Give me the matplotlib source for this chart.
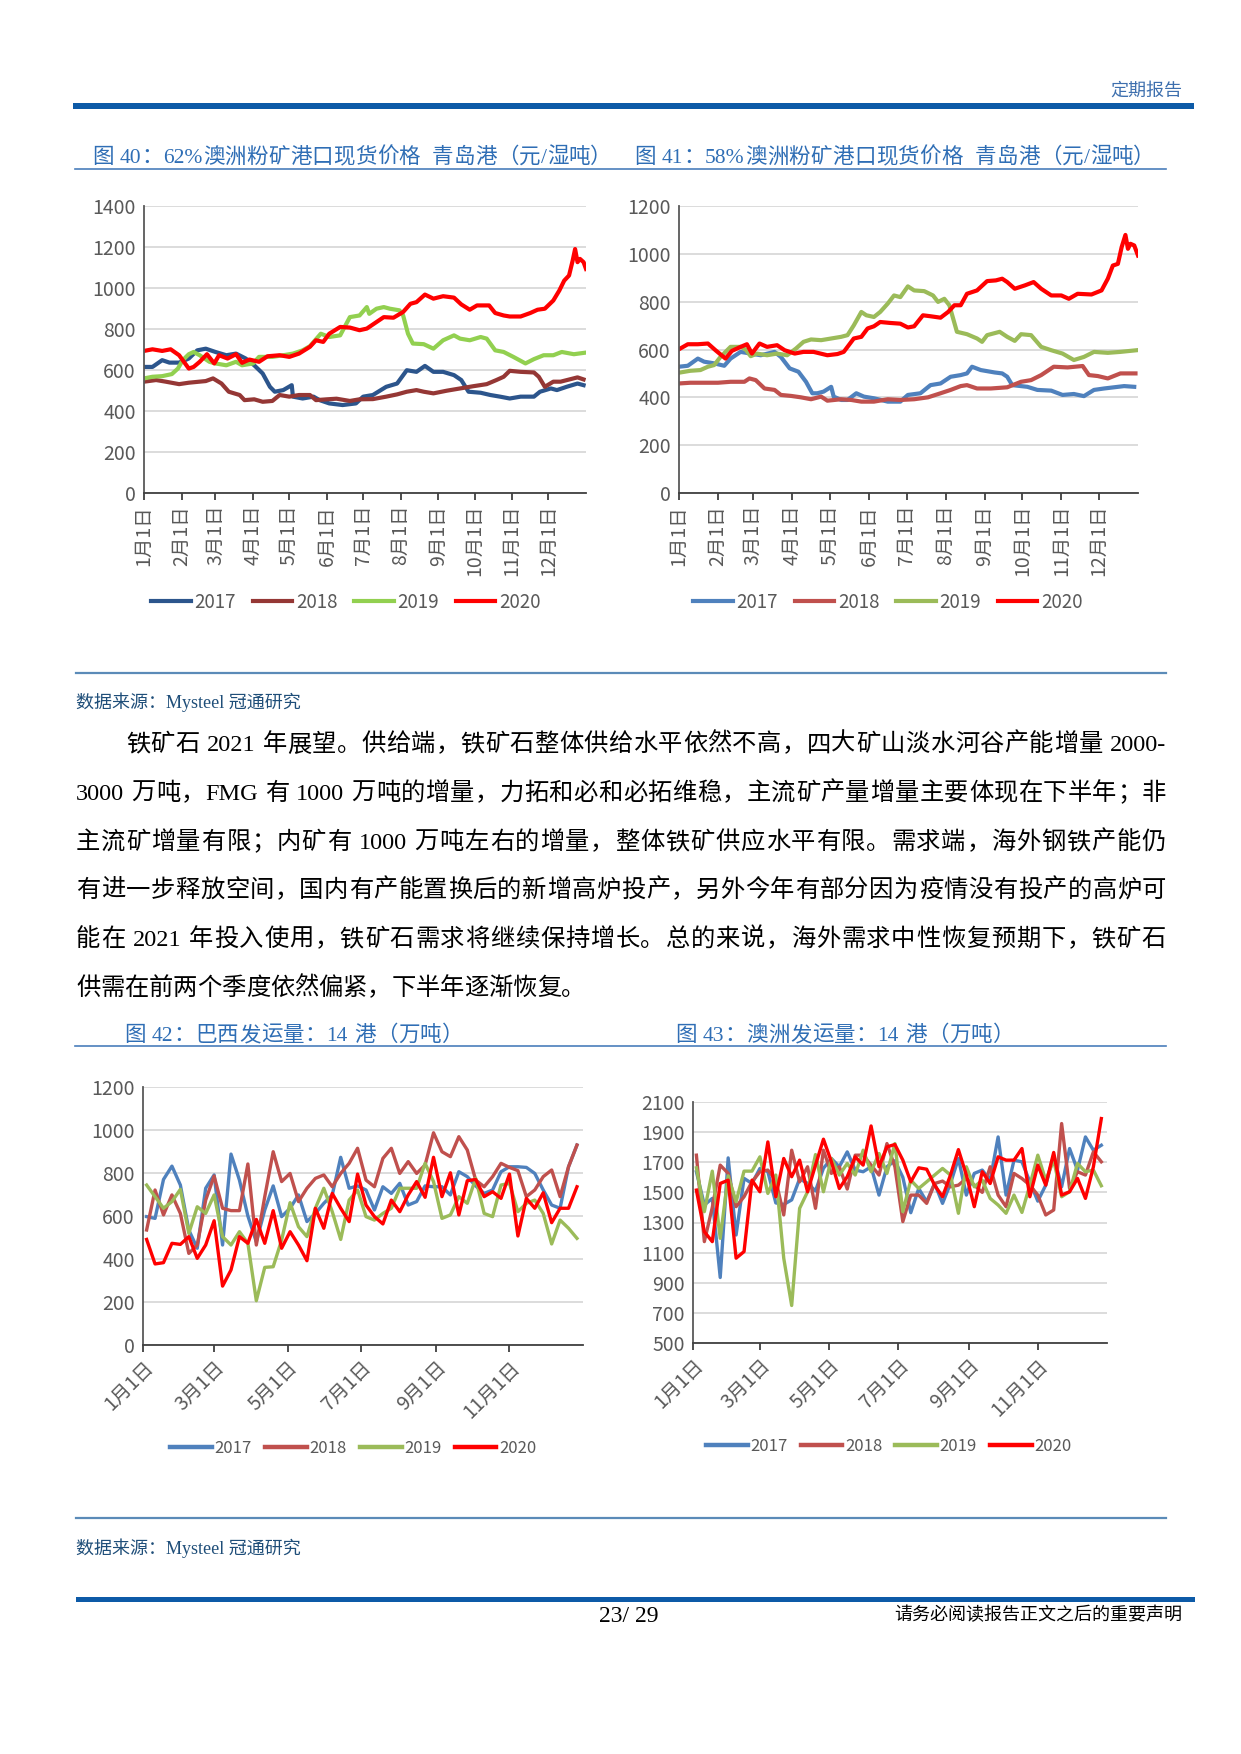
import numpy as np
import matplotlib
matplotlib.use('Agg')
import matplotlib.pyplot as plt
from matplotlib.lines import Line2D
from matplotlib.patches import Rectangle

W, H = 1241, 1754
SERIF = ['Liberation Serif', 'Noto Sans CJK SC']
NUM = ['Liberation Sans Narrow', 'Noto Sans CJK SC']
CJK = ['Noto Sans CJK SC', 'DejaVu Sans']

years = ['2017', '2018', '2019', '2020']
month_days = [0, 31, 59, 90, 120, 151, 181, 212, 243, 273, 304, 334]
month_labels = ['1月1日', '2月1日', '3月1日', '4月1日', '5月1日', '6月1日',
                '7月1日', '8月1日', '9月1日', '10月1日', '11月1日', '12月1日']
bimonth_days = [0, 59, 120, 181, 243, 304]
bimonth_labels = ['1月1日', '3月1日', '5月1日', '7月1日', '9月1日', '11月1日']

# fig 40: 62% australian fines, qingdao (yuan / wet ton)
p62_days_2017 = [0, 7, 15, 21, 29, 37, 44, 51, 59, 68, 76, 84, 91, 98, 104, 108, 115, 122, 123, 131, 140, 145, 153,
                 164, 175, 181, 189, 200, 209, 217, 225, 232, 239, 247, 256, 262, 268, 278, 286, 294, 302, 311, 322,
                 327, 336, 341, 349, 358, 363]
p62_2017 = [615, 615, 648, 636, 636, 656, 696, 704, 688, 672, 680, 656, 623, 583, 518, 494, 502, 526, 470, 461, 470,
            453, 437, 429, 437, 470, 478, 518, 534, 599, 591, 620, 591, 591, 575, 551, 494, 489, 478, 470, 461, 470,
            470, 494, 510, 502, 518, 534, 526]
p62_days_2018 = [0, 10, 18, 29, 37, 51, 57, 64, 70, 79, 83, 91, 98, 106, 112, 120, 128, 137, 142, 151, 159, 170, 178,
                 189, 200, 209, 217, 225, 231, 239, 250, 261, 272, 283, 291, 297, 302, 311, 322, 326, 331, 338, 344,
                 352, 358, 363]
p62_2018 = [543, 551, 543, 531, 538, 546, 559, 534, 494, 478, 453, 457, 445, 449, 478, 470, 478, 478, 453, 457, 460,
            449, 457, 458, 470, 481, 494, 502, 494, 486, 499, 510, 521, 531, 551, 567, 596, 591, 588, 567, 518, 543,
            543, 555, 564, 554]
p62_days_2019 = [0, 7, 15, 23, 28, 32, 37, 41, 46, 54, 59, 68, 76, 81, 90, 95, 106, 115, 123, 131, 137, 146, 153, 162,
                 170, 178, 184, 186, 192, 198, 203, 211, 214, 218, 222, 231, 239, 247, 256, 261, 269, 278, 283, 290,
                 297, 305, 315, 322, 330, 338, 345, 355, 365]
p62_2019 = [559, 567, 570, 580, 607, 648, 677, 688, 672, 640, 632, 623, 640, 623, 632, 664, 664, 672, 680, 696, 716,
            777, 761, 769, 858, 866, 907, 874, 899, 907, 899, 891, 866, 777, 729, 726, 704, 745, 769, 753, 745, 761,
            753, 696, 688, 664, 632, 653, 672, 672, 688, 677, 685]
p62_days_2020 = [0, 7, 15, 22, 29, 37, 41, 46, 52, 58, 62, 69, 76, 81, 87, 95, 102, 112, 120, 128, 137, 142, 148, 153,
                 162, 170, 178, 184, 192, 198, 206, 214, 220, 225, 232, 239, 247, 256, 262, 269, 275, 285, 290, 297,
                 302, 311, 319, 325, 331, 338, 343, 347, 351, 354, 356, 358, 360, 363, 365]
p62_2020 = [693, 701, 693, 701, 672, 607, 615, 640, 677, 632, 672, 656, 677, 635, 651, 640, 667, 672, 664, 680, 713,
            745, 737, 777, 810, 807, 794, 802, 834, 858, 855, 883, 923, 931, 968, 948, 960, 953, 920, 894, 915, 915,
            878, 866, 861, 861, 878, 894, 899, 939, 988, 1036, 1061, 1134, 1190, 1126, 1142, 1126, 1093]

# fig 41: 58% australian fines, qingdao (yuan / wet ton)
p58_days_2017 = [0, 7, 15, 20, 28, 36, 41, 49, 57, 65, 76, 81, 88, 95, 101, 106, 110, 115, 121, 123, 129, 134, 141,
                 147, 155, 166, 176, 182, 192, 200, 208, 216, 224, 229, 233, 240, 251, 257, 261, 265, 277, 285, 296,
                 305, 314, 322, 330, 338, 346, 354, 362]
p58_2017 = [528, 532, 562, 549, 542, 532, 562, 590, 583, 576, 590, 569, 521, 507, 465, 417, 417, 424, 444, 403, 389,
            389, 417, 403, 396, 382, 382, 410, 417, 451, 458, 486, 493, 500, 528, 514, 504, 500, 486, 451, 444, 431,
            428, 410, 414, 405, 431, 437, 442, 447, 444]
p58_days_2018 = [0, 9, 20, 31, 41, 52, 56, 61, 68, 76, 81, 89, 97, 105, 113, 118, 129, 137, 145, 155, 166, 176, 187,
                 198, 208, 216, 224, 229, 237, 248, 261, 272, 280, 288, 298, 309, 321, 326, 333, 341, 351, 363]
p58_2018 = [458, 461, 461, 461, 465, 465, 479, 472, 437, 431, 410, 406, 400, 392, 403, 386, 392, 389, 382, 382, 392,
            389, 392, 400, 417, 431, 447, 451, 437, 437, 442, 465, 472, 493, 528, 525, 531, 493, 489, 479, 500, 500]
p58_days_2019 = [0, 9, 17, 23, 28, 33, 41, 49, 53, 57, 62, 70, 78, 86, 93, 99, 105, 113, 121, 129, 134, 139, 145, 149,
                 155, 160, 166, 171, 176, 182, 187, 195, 202, 206, 211, 215, 221, 229, 237, 241, 245, 255, 261, 267,
                 272, 280, 288, 296, 305, 314, 322, 330, 341, 351, 364]
p58_2019 = [503, 511, 514, 528, 535, 569, 611, 611, 600, 572, 583, 576, 583, 576, 604, 632, 642, 639, 646, 653, 660,
            701, 757, 743, 736, 757, 792, 826, 819, 864, 847, 844, 826, 799, 812, 785, 674, 664, 646, 632, 660, 674,
            653, 636, 664, 660, 611, 597, 583, 556, 569, 590, 586, 590, 597]
p58_days_2020 = [0, 7, 15, 23, 29, 37, 42, 49, 54, 58, 64, 70, 78, 84, 92, 99, 107, 118, 126, 131, 139, 145, 150, 155,
                 160, 168, 176, 182, 187, 194, 200, 208, 214, 219, 224, 229, 237, 245, 252, 257, 261, 267, 275, 282,
                 288, 296, 304, 310, 317, 328, 336, 341, 345, 349, 352, 355, 357, 359, 362, 365]
p58_2020 = [601, 622, 622, 625, 597, 562, 594, 611, 622, 583, 625, 611, 618, 597, 583, 590, 590, 576, 581, 590, 646,
            653, 688, 697, 715, 711, 708, 692, 697, 743, 739, 733, 757, 785, 785, 833, 847, 886, 889, 896, 882, 854,
            868, 882, 854, 826, 826, 812, 833, 830, 847, 896, 951, 958, 1028, 1079, 1021, 1042, 1035, 993]

# fig 42: brazil shipments, 14 ports (10k tons), weekly
brz_2017 = [597, 589, 770, 832, 744, 535, 450, 729, 791, 465, 888, 767, 600, 480, 628, 740, 597, 636, 698, 574, 612,
            659, 698, 873, 729, 740, 721, 628, 736, 705, 752, 651, 667, 740, 736, 736, 698, 806, 783, 740, 705, 721,
            806, 829, 829, 826, 798, 721, 651, 636, 829, 930]
brz_2018 = [535, 721, 605, 698, 612, 426, 465, 674, 786, 636, 625, 625, 842, 465, 690, 899, 760, 798, 667, 729, 775,
            791, 736, 798, 845, 915, 767, 736, 868, 915, 798, 853, 798, 837, 987, 899, 876, 969, 907, 767, 736, 783,
            845, 826, 811, 690, 721, 783, 814, 690, 829, 930]
brz_2019 = [744, 690, 636, 667, 724, 519, 643, 612, 698, 504, 465, 527, 473, 206, 361, 364, 488, 662, 550, 504, 636,
            729, 620, 491, 674, 721, 597, 581, 612, 636, 729, 729, 729, 845, 760, 589, 605, 690, 659, 775, 612, 597,
            744, 752, 620, 659, 674, 612, 470, 581, 543, 496]
brz_2020 = [491, 377, 383, 473, 468, 504, 403, 465, 578, 274, 349, 504, 473, 584, 473, 625, 450, 527, 465, 392, 636,
            543, 705, 636, 574, 795, 651, 597, 563, 674, 620, 698, 760, 687, 873, 690, 801, 605, 764, 770, 690, 713,
            682, 795, 507, 682, 636, 708, 569, 636, 636, 736]

# fig 43: australia shipments, 14 ports (10k tons), weekly
aus_2017 = [1637, 1416, 1460, 935, 1729, 1217, 1593, 1559, 1659, 1637, 1430, 1420, 1450, 1590, 1560, 1510, 1660,
            1725, 1670, 1769, 1648, 1637, 1670, 1482, 1670, 1710, 1600, 1365, 1526, 1438, 1559, 1427, 1559, 1725,
            1482, 1626, 1648, 1581, 1868, 1482, 1714, 1703, 1570, 1442, 1548, 1747, 1537, 1791, 1648, 1868, 1780, 1813]
aus_2018 = [1747, 1173, 1400, 1681, 1626, 1405, 1471, 1570, 1637, 1648, 1581, 1350, 1780, 1570, 1670, 1394, 1780,
            1626, 1670, 1522, 1747, 1747, 1681, 1615, 1824, 1670, 1306, 1482, 1482, 1427, 1559, 1575, 1537, 1548,
            1592, 1548, 1500, 1670, 1482, 1405, 1626, 1592, 1548, 1482, 1350, 1383, 1957, 1526, 1637, 1615, 1769, 1703]
aus_2019 = [1663, 1372, 1641, 1195, 1610, 1438, 1641, 1641, 1736, 1493, 1615, 1063, 749, 1394, 1504, 1751, 1504,
            1725, 1615, 1692, 1615, 1780, 1637, 1758, 1626, 1824, 1372, 1581, 1526, 1570, 1615, 1659, 1615, 1361,
            1670, 1537, 1581, 1460, 1416, 1361, 1482, 1367, 1548, 1747, 1581, 1714, 1471, 1504, 1692, 1637, 1648, 1544]
aus_2020 = [1515, 1239, 1173, 1559, 1581, 1063, 1107, 1581, 1504, 1835, 1471, 1725, 1604, 1714, 1504, 1681, 1853,
            1703, 1526, 1604, 1736, 1681, 1941, 1670, 1802, 1818, 1714, 1570, 1663, 1654, 1548, 1471, 1615, 1784,
            1615, 1405, 1637, 1559, 1736, 1714, 1714, 1791, 1471, 1681, 1548, 1765, 1482, 1504, 1593, 1460, 1670, 1990]

week_days = np.arange(3, 364, 7)

colors_dark = ['#2C558C', '#953735', '#92D050', '#FF0000']
colors_std = ['#4F81BD', '#C0504D', '#9BBB59', '#FF0000']

para = [
    '铁矿石 2021 年展望。供给端，铁矿石整体供给水平依然不高，四大矿山淡水河谷产能增量 2000-',
    '3000 万吨，FMG 有 1000 万吨的增量，力拓和必和必拓维稳，主流矿产量增量主要体现在下半年；非',
    '主流矿增量有限；内矿有 1000 万吨左右的增量，整体铁矿供应水平有限。需求端，海外钢铁产能仍',
    '有进一步释放空间，国内有产能置换后的新增高炉投产，另外今年有部分因为疫情没有投产的高炉可',
    '能在 2021 年投入使用，铁矿石需求将继续保持增长。总的来说，海外需求中性恢复预期下，铁矿石',
    '供需在前两个季度依然偏紧，下半年逐渐恢复。',
]


def fx(x):
    return x / W


def fy(y):
    return 1 - y / H


def add_axes_px(fig, left, top, right, bottom):
    return fig.add_axes([fx(left), fy(bottom), (right - left) / W, (bottom - top) / H])


def hline(fig, x0, x1, y, color, lw):
    fig.add_artist(Line2D([fx(x0), fx(x1)], [fy(y), fy(y)], color=color, lw=lw))


def style_axes(ax, fsize):
    ax.spines[['right', 'top']].set_visible(False)
    ax.spines['left'].set_color('#595959')
    ax.spines['bottom'].set_color('#404040')
    ax.spines['left'].set_linewidth(1.3)
    ax.spines['bottom'].set_linewidth(1.3)
    ax.yaxis.grid(True, color='#D9D9D9', lw=1.3)
    ax.set_axisbelow(True)
    ax.tick_params(axis='y', length=0, pad=6, labelsize=fsize, labelcolor='#595959')
    ax.tick_params(axis='x', length=5, width=1.3, color='#404040', direction='out',
                   labelsize=fsize, labelcolor='#595959')
    for lab in ax.get_yticklabels():
        lab.set_family(NUM)


def justify_line(fig, renderer, text, x0, x1, y, size, stretch=True, color='black'):
    tokens = []
    run = ''
    for ch in text:
        if ord(ch) < 128 and ch != ' ':
            run += ch
        else:
            if run:
                tokens.append(run)
                run = ''
            tokens.append(ch)
    if run:
        tokens.append(run)
    widths = []
    for tok in tokens:
        if tok == ' ':
            widths.append(size * 100 / 72 * 0.25)
        else:
            t = fig.text(0, 0, tok, fontsize=size, family=SERIF)
            widths.append(t.get_window_extent(renderer).width)
            t.remove()
    gap = (x1 - x0 - sum(widths)) / (len(tokens) - 1) if stretch else 0
    x = x0
    for tok, w in zip(tokens, widths):
        if tok != ' ':
            fig.text(fx(x), fy(y), tok, fontsize=size, family=SERIF, va='baseline', ha='left', color=color)
        x += w + gap


fig = plt.figure(figsize=(W / 100, H / 100), dpi=100)
renderer = fig.canvas.get_renderer()

# page header / footer
fig.add_artist(Rectangle((fx(73), fy(109)), (1194 - 73) / W, 6 / H, color='#0D5AA7', lw=0))
fig.text(fx(1182), fy(91), '定期报告', fontsize=13, family=CJK, color='#3D6FAE', ha='right', va='center')
fig.add_artist(Rectangle((fx(76), fy(1602)), (1195 - 76) / W, 5 / H, color='#0D5AA7', lw=0))
fig.text(fx(629), fy(1616), '23/ 29', fontsize=17, family=SERIF, ha='center', va='center')
fig.text(fx(1182), fy(1615), '请务必阅读报告正文之后的重要声明', fontsize=13, family=CJK,
         ha='right', va='center')

# figure titles, spread like the original
title_color = '#2F6EB5'
justify_line(fig, renderer, '图 40：62%澳洲粉矿港口现货价格  青岛港（元/湿吨）', 92, 612, 163, 15.5,
             color=title_color)
justify_line(fig, renderer, '图 41：58%澳洲粉矿港口现货价格  青岛港（元/湿吨）', 634, 1155, 163, 15.5,
             color=title_color)
hline(fig, 75, 1166, 168.5, '#4A7EBB', 1.2)
justify_line(fig, renderer, '图 42：巴西发运量：14 港（万吨）', 124, 463, 1041, 15.5, color=title_color)
justify_line(fig, renderer, '图 43：澳洲发运量：14 港（万吨）', 675, 1014, 1041, 15.5, color=title_color)
hline(fig, 75, 1166, 1046, '#4A7EBB', 1.2)

# source notes
hline(fig, 76, 1166, 673, '#5B8BB8', 1.6)
fig.text(fx(76), fy(702), '数据来源：Mysteel 冠通研究', fontsize=13, family=SERIF, color='#1F4E79', va='center')
hline(fig, 76, 1166, 1518, '#5B8BB8', 1.6)
fig.text(fx(76), fy(1548), '数据来源：Mysteel 冠通研究', fontsize=13, family=SERIF, color='#1F4E79', va='center')

# paragraph
baselines = [751, 800, 849, 897, 946, 995]
for i, line in enumerate(para):
    x0 = 126 if i == 0 else 76
    justify_line(fig, renderer, line, x0, 1166, baselines[i], 17.5, stretch=(i < len(para) - 1))

# fig 40 / 41
price_sets = [
    ((144, 206, 586, 493), [(p62_days_2017, p62_2017), (p62_days_2018, p62_2018),
                            (p62_days_2019, p62_2019), (p62_days_2020, p62_2020)], 1400, colors_dark, 0.457),
    ((679, 206, 1138, 493), [(p58_days_2017, p58_2017), (p58_days_2018, p58_2018),
                             (p58_days_2019, p58_2019), (p58_days_2020, p58_2020)], 1200, colors_std, 0.455),
]
for rect, series, ymax, cols, lx in price_sets:
    ax = add_axes_px(fig, *rect)
    for (d, v), c, lab in zip(series, cols, years):
        ax.plot(d, v, color=c, lw=3.0, label=lab, solid_joinstyle='round')
    ax.set_xlim(0, 365)
    ax.set_ylim(0, ymax)
    ax.set_yticks(range(0, ymax + 1, 200))
    ax.set_xticks(month_days)
    ax.set_xticklabels(month_labels, rotation=90, family=NUM)
    style_axes(ax, 14)
    ax.legend(ncol=4, loc='center', bbox_to_anchor=(lx, -0.38), frameon=False,
              handlelength=2.1, handletextpad=0.2, columnspacing=0.9, prop={'family': NUM, 'size': 13.5},
              labelcolor='#595959')

# fig 42 / 43
ship_sets = [
    ((143, 1087, 583, 1345), [brz_2017, brz_2018, brz_2019, brz_2020], (0, 1200), 0.478, -0.40),
    ((693, 1102, 1107, 1343), [aus_2017, aus_2018, aus_2019, aus_2020], (500, 2100), 0.473, -0.43),
]
for rect, series, ylim, lx, ly in ship_sets:
    ax = add_axes_px(fig, *rect)
    for v, c, lab in zip(series, colors_std, years):
        ax.plot(week_days, v, color=c, lw=2.4, label=lab, solid_joinstyle='round')
    ax.set_xlim(0, 365)
    ax.set_ylim(*ylim)
    ax.set_yticks(range(ylim[0], ylim[1] + 1, 200))
    ax.set_xticks(bimonth_days)
    ax.set_xticklabels(bimonth_labels, rotation=45, ha='right', va='top',
                       rotation_mode='anchor', family=NUM)
    style_axes(ax, 14)
    leg = ax.legend(ncol=4, loc='center', bbox_to_anchor=(lx, ly), frameon=False,
                    handlelength=2.5, handletextpad=0.15, columnspacing=0.8, prop={'family': NUM, 'size': 12},
                    labelcolor='#595959')
    for h in leg.get_lines():
        h.set_linewidth(3.2)

fig.savefig('out.png', dpi=100)
